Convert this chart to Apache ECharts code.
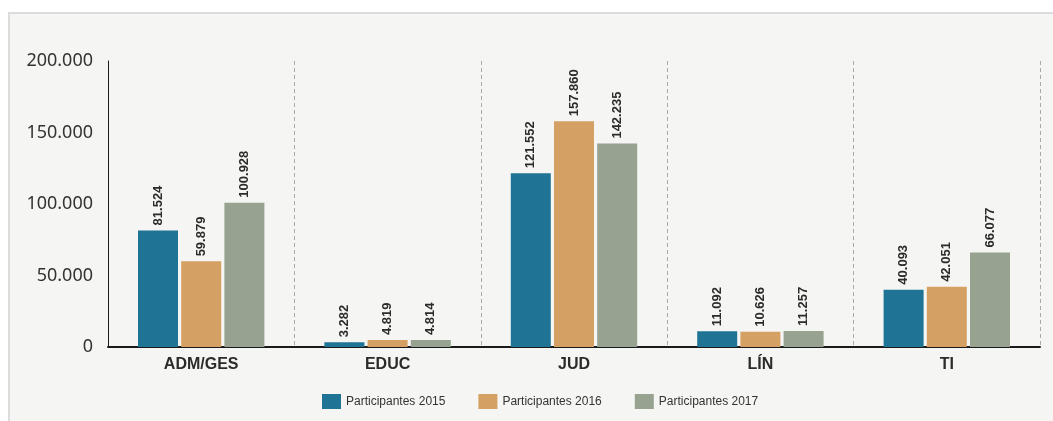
<!DOCTYPE html>
<html>
<head>
<meta charset="utf-8">
<script src="https://cdn.jsdelivr.net/npm/echarts@6/dist/echarts.min.js"></script>
<style>
  html, body { margin: 0; padding: 0; background: #ffffff; }
  #frame {
    position: absolute; left: 8px; top: 12px; width: 1045px; height: 409px;
    background: #f5f5f3; border-left: 2px solid #dcdcdc; border-top: 2px solid #dcdcdc;
    box-sizing: border-box;
  }
  #chart { position: absolute; left: 0; top: 0; width: 1053px; height: 421px; }
</style>
</head>
<body>
<div id="frame"></div>
<div id="chart"></div>
<script>
  const categories = ['ADM/GES', 'EDUC', 'JUD', 'LÍN', 'TI']
  const part2015 = [81524, 3282, 121552, 11092, 40093]
  const part2016 = [59879, 4819, 157860, 10626, 42051]
  const part2017 = [100928, 4814, 142235, 11257, 66077]
  const yTicks = [0, 50000, 100000, 150000, 200000]

  const font = '"Liberation Sans", Arial, sans-serif'

  function dots(v) {
    return String(v).replace(/\B(?=(\d{3})+(?!\d))/g, '.')
  }

  function makeSeries(name, data, color) {
    return {
      name: name,
      type: 'bar',
      data: data,
      barWidth: 40,
      barGap: '8%',
      itemStyle: { color: color },
      label: {
        show: true,
        position: 'top',
        rotate: 90,
        align: 'left',
        verticalAlign: 'middle',
        distance: 5,
        color: '#2b2b2b',
        fontFamily: font,
        fontWeight: 'bold',
        fontSize: 13,
        formatter: p => dots(p.value)
      }
    }
  }

  const chart = echarts.init(document.getElementById('chart'))
  chart.setOption({
    animation: false,
    backgroundColor: 'transparent',
    grid: { left: 108, right: 13, top: 61, bottom: 74, containLabel: false },
    legend: {
      bottom: 7,
      left: 317,
      itemWidth: 19,
      itemHeight: 15,
      itemGap: 33,
      icon: 'rect',
      textStyle: { fontFamily: font, fontSize: 12, color: '#333' },
      data: ['Participantes 2015', 'Participantes 2016', 'Participantes 2017']
    },
    xAxis: {
      type: 'category',
      data: categories,
      axisLine: { lineStyle: { color: '#1a1a1a', width: 2 } },
      axisTick: { show: false },
      axisLabel: { fontFamily: font, fontWeight: 'bold', fontSize: 16, color: '#2b2b2b', margin: 10 },
      splitLine: { show: true, lineStyle: { type: [4, 3], color: '#aaaaaa', width: 1 } }
    },
    yAxis: {
      type: 'value',
      min: yTicks[0],
      max: yTicks[yTicks.length - 1],
      interval: 50000,
      axisLine: { show: true, lineStyle: { color: '#1a1a1a', width: 1 } },
      axisTick: { show: false },
      splitLine: { show: false },
      axisLabel: {
        fontFamily: '"Noto Sans", sans-serif', fontSize: 18, color: '#333', margin: 15,
        formatter: v => dots(v)
      }
    },
    series: [
      makeSeries('Participantes 2015', part2015, '#1f7394'),
      makeSeries('Participantes 2016', part2016, '#d5a064'),
      makeSeries('Participantes 2017', part2017, '#97a290')
    ]
  })
</script>
</body>
</html>
